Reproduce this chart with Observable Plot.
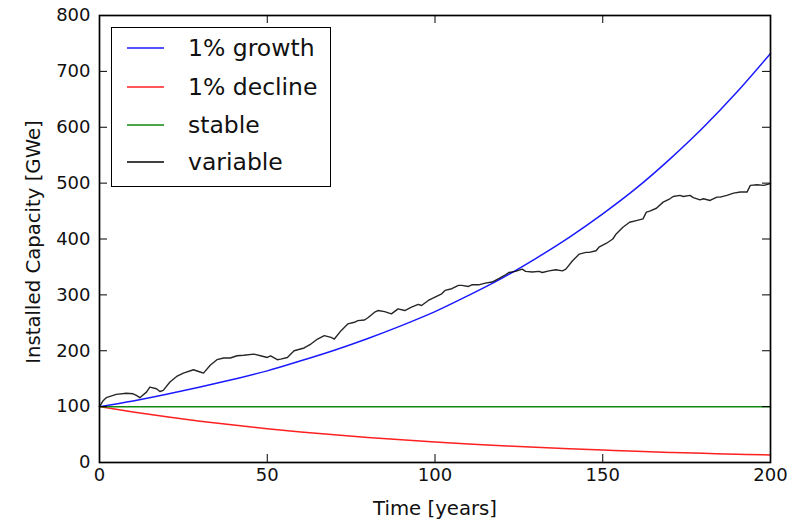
<!DOCTYPE html>
<html>
<head>
<meta charset="utf-8">
<script src="https://cdn.jsdelivr.net/npm/d3@7"></script>
<script src="https://cdn.jsdelivr.net/npm/@observablehq/plot@0.6"></script>
<style>
  body { margin: 0; background: #fff; }
  #wrap { position: relative; width: 794px; height: 521px; }
  .legend { position: absolute; left: 111px; top: 27px; width: 220px; height: 160px;
    border: 1.5px solid #000; background: #fff; box-sizing: border-box;
    font-family: "DejaVu Sans", sans-serif; font-size: 23.5px; color: #111; }
  .row { position: absolute; left: 0; height: 30px; width: 100%; }
  .row svg { position: absolute; left: 15px; top: 0; }
  .lbl { position: absolute; left: 76px; top: 0; line-height: 30px; white-space: nowrap; }
</style>
</head>
<body>
<div id="wrap"></div>
<script>
// Ticks
const xTicks = [0, 50, 100, 150, 200];
const yTicks = [0, 100, 200, 300, 400, 500, 600, 700, 800];

// Series names and colours
const seriesNames = ["1% growth", "1% decline", "stable", "variable"];
const seriesColors = ["#1a1aff", "#ff2020", "#108a10", "#000000"];

// 1% growth (read every 10 years)
const growthYears = [0,10,20,30,40,50,60,70,80,90,100,110,120,130,140,150,160,170,180,190,200];
const growthValues = [100,110,122,135,149,164,182,201,222,245,270,299,330,365,403,445,491,543,600,663,732];

// 1% decline (read every 10 years)
const declineYears = [0,10,20,30,40,50,60,70,80,90,100,110,120,130,140,150,160,170,180,190,200];
const declineValues = [100,90.4,81.8,74,67,60.5,54.7,49.5,44.8,40.5,36.6,33.1,30,27.1,24.5,22.2,20,18.1,16.4,14.8,13.4];

// stable
const stableYears = [0, 200];
const stableValues = [100, 100];

// variable
const variableYears = [0,1,2,5,8,10,11,12,14,15,17,18,19,21,23,25,28,30,31,33,35,37,39,41,43,46,48,50,51,53,54,56,58,61,63,65,67,69,70,72,74,76,77,79,80,82,83,85,87,89,91,93,95,96,98,100,102,103,105,107,108,110,111,113,115,117,119,121,122,124,126,127,129,131,132,134,136,138,139,141,143,145,146,148,149,151,153,154,156,158,160,162,163,164,166,168,170,171,173,174,176,177,179,180,182,184,185,187,189,191,193,194,196,198,200];
const variableValues = [100,110,116,122,124,123,120,116,126,135,132,127,129,144,154,160,166,162,160,174,184,187,187,191,192,194,191,188,191,184,185,188,200,205,212,221,227,224,221,236,248,251,254,255,259,269,272,270,266,275,272,278,283,281,290,296,302,308,311,317,317,315,318,318,321,323,329,336,340,342,346,342,341,342,340,343,345,343,346,361,373,376,376,379,386,392,400,409,421,430,433,436,448,450,455,466,472,476,478,476,478,474,470,472,469,475,475,478,482,484,484,496,497,496,499];

const xLabel = "Time [years]";
const yLabel = "Installed Capacity [GWe]";

const toRows = (ts, vs) => ts.map((t, i) => ({t, v: vs[i]}));

const W = 794, H = 521, mL = 99, mR = 24, mT = 15, mB = 59;
const innerW = W - mL - mR, innerH = H - mT - mB;

const plot = Plot.plot({
  width: W, height: H,
  marginLeft: mL, marginRight: mR, marginTop: mT, marginBottom: mB,
  style: {fontFamily: "DejaVu Sans, sans-serif", fontSize: "18px", color: "#111", background: "#fff"},
  x: {domain: [0, 200]},
  y: {domain: [0, 800]},
  marks: [
    Plot.line(toRows(growthYears, growthValues), {x: "t", y: "v", stroke: seriesColors[0], strokeWidth: 1.5, curve: "monotone-x"}),
    Plot.line(toRows(declineYears, declineValues), {x: "t", y: "v", stroke: seriesColors[1], strokeWidth: 1.5, curve: "monotone-x"}),
    Plot.line(toRows(stableYears, stableValues), {x: "t", y: "v", stroke: seriesColors[2], strokeWidth: 1.5}),
    Plot.line(toRows(variableYears, variableValues), {x: "t", y: "v", stroke: seriesColors[3], strokeWidth: 1.4, strokeOpacity: 0.85}),
    Plot.frame({stroke: "#000", strokeWidth: 1.7}),
    Plot.ruleX(xTicks, {stroke: "#000", insetTop: innerH - 8}),
    Plot.ruleX(xTicks, {stroke: "#000", insetBottom: innerH - 8}),
    Plot.ruleY(yTicks, {stroke: "#000", insetRight: innerW - 8}),
    Plot.ruleY(yTicks, {stroke: "#000", insetLeft: innerW - 8}),
    Plot.axisX(xTicks, {tickSize: 0, tickPadding: 6, label: null}),
    Plot.axisY(yTicks, {tickSize: 0, tickPadding: 9, label: null}),
    Plot.text([xLabel], {frameAnchor: "bottom", dy: 52, fontSize: 19.7, fill: "#111", textAnchor: "middle", text: d => d}),
    Plot.text([yLabel], {frameAnchor: "left", dx: -66, dy: 3, rotate: -90, fontSize: 19.7, fill: "#111", textAnchor: "middle", text: d => d})
  ]
});

const wrap = document.getElementById("wrap");
wrap.appendChild(plot);

const legend = document.createElement("div");
legend.className = "legend";
const rowTops = [5, 44, 82, 119];
const svgNS = "http://www.w3.org/2000/svg";
seriesNames.forEach((name, i) => {
  const row = document.createElement("div");
  row.className = "row";
  row.style.top = rowTops[i] + "px";
  const sw = document.createElementNS(svgNS, "svg");
  sw.setAttribute("width", "38");
  sw.setAttribute("height", "30");
  const ln = document.createElementNS(svgNS, "line");
  ln.setAttribute("x1", "0"); ln.setAttribute("x2", "37");
  ln.setAttribute("y1", "15"); ln.setAttribute("y2", "15");
  ln.setAttribute("stroke", seriesColors[i]);
  ln.setAttribute("stroke-width", "1.5");
  sw.appendChild(ln);
  const lbl = document.createElement("div");
  lbl.className = "lbl";
  lbl.textContent = name;
  row.appendChild(sw);
  row.appendChild(lbl);
  legend.appendChild(row);
});
wrap.appendChild(legend);
</script>
</body>
</html>
